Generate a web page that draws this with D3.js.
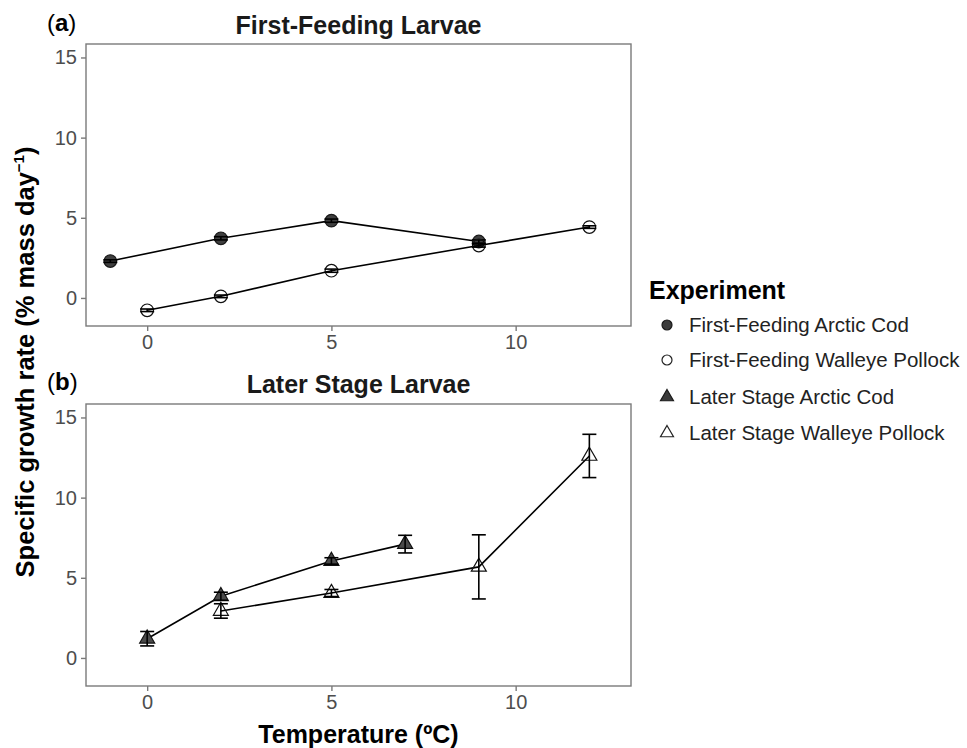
<!DOCTYPE html>
<html>
<head>
<meta charset="utf-8">
<script src="https://cdn.jsdelivr.net/npm/d3@7"></script>
<style>
  body { margin: 0; background: #fff; }
  svg { display: block; font-family: "Liberation Sans", Arial, sans-serif; }
</style>
</head>
<body>
<svg id="chart" width="967" height="748"></svg>
<script>
// ---- Data ----
const ffCodTemp = [-1, 2, 5, 9];
const ffCodSGR  = [2.3, 3.72, 4.82, 3.52];
const ffCodErr  = [0.08, 0.1, 0.1, 0.1];

const ffPollockTemp = [0, 2, 5, 9, 12];
const ffPollockSGR  = [-0.77, 0.1, 1.7, 3.27, 4.42];
const ffPollockErr  = [0.08, 0.08, 0.1, 0.1, 0.08];

const lsCodTemp = [0, 2, 5, 7];
const lsCodSGR  = [1.2, 3.85, 6.05, 7.1];
const lsCodErr  = [0.45, 0.25, 0.2, 0.55];

const lsPollockTemp = [2, 5, 9, 12];
const lsPollockSGR  = [2.93, 4.05, 5.68, 12.6];
const lsPollockErr  = [0.45, 0.22, 2.0, 1.35];

const xTicks = [0, 5, 10];
const yTicks = [0, 5, 10, 15];

const legendLabels = ["First-Feeding Arctic Cod", "First-Feeding Walleye Pollock",
                      "Later Stage Arctic Cod", "Later Stage Walleye Pollock"];

// ---- Layout ----
const svg = d3.select("#chart");
const left = 86, right = 631;
const panels = [
  { top: 44, bottom: 326, title: "First-Feeding Larvae", tag: "a", titleY: 34, tagY: 31,
    series: [
      { t: ffCodTemp, v: ffCodSGR, e: ffCodErr, shape: "circle", filled: true },
      { t: ffPollockTemp, v: ffPollockSGR, e: ffPollockErr, shape: "circle", filled: false }
    ] },
  { top: 404, bottom: 686, title: "Later Stage Larvae", tag: "b", titleY: 393, tagY: 390,
    series: [
      { t: lsCodTemp, v: lsCodSGR, e: lsCodErr, shape: "triangle", filled: true },
      { t: lsPollockTemp, v: lsPollockSGR, e: lsPollockErr, shape: "triangle", filled: false }
    ] }
];

const x = d3.scaleLinear().domain([-1.66, 13.13]).range([left, right]);
const axisGrey = "#7a7a7a";
const tickText = "#4d4d4d";

const triPath = (s) => {
  const h = s * Math.sqrt(3) / 2;
  return `M0,${-2*h/3}L${s/2},${h/3}L${-s/2},${h/3}Z`;
};

panels.forEach(p => {
  const y = d3.scaleLinear().domain([-1.75, 15.84]).range([p.bottom, p.top]);
  const g = svg.append("g");

  // data layer
  p.series.forEach(s => {
    const pts = s.t.map((t, i) => ({ t, v: s.v[i], e: s.e[i] }));
    g.append("path")
      .datum(pts)
      .attr("fill", "none")
      .attr("stroke", "#000")
      .attr("stroke-width", 1.6)
      .attr("d", d3.line().x(d => x(d.t)).y(d => y(d.v)));

    const marks = g.append("g");
    if (s.shape === "circle") {
      marks.selectAll("circle").data(pts).join("circle")
        .attr("cx", d => x(d.t)).attr("cy", d => y(d.v))
        .attr("r", 6.3)
        .attr("fill", s.filled ? "#3f3f3f" : "none")
        .attr("stroke", s.filled ? "#1a1a1a" : "#111")
        .attr("stroke-width", 1.2);
    } else {
      marks.selectAll("path").data(pts).join("path")
        .attr("transform", d => `translate(${x(d.t)},${y(d.v)})`)
        .attr("d", triPath(15))
        .attr("fill", s.filled ? "#4a4a4a" : "none")
        .attr("stroke", "#111")
        .attr("stroke-width", 1.2);
    }

    // error bars
    const eb = g.append("g").attr("stroke", "#000").attr("stroke-width", 1.6);
    const cap = 7;
    pts.forEach(d => {
      const cx = x(d.t), y1 = y(d.v + d.e), y0 = y(d.v - d.e);
      eb.append("line").attr("x1", cx).attr("x2", cx).attr("y1", y1).attr("y2", y0);
      eb.append("line").attr("x1", cx - cap).attr("x2", cx + cap).attr("y1", y1).attr("y2", y1);
      eb.append("line").attr("x1", cx - cap).attr("x2", cx + cap).attr("y1", y0).attr("y2", y0);
    });
  });

  // panel border
  g.append("rect")
    .attr("x", left).attr("y", p.top)
    .attr("width", right - left).attr("height", p.bottom - p.top)
    .attr("fill", "none").attr("stroke", axisGrey).attr("stroke-width", 1.4);

  // axes
  const xa = g.append("g").attr("transform", `translate(0,${p.bottom})`)
    .call(d3.axisBottom(x).tickValues(xTicks).tickSize(5).tickPadding(4));
  const ya = g.append("g").attr("transform", `translate(${left},0)`)
    .call(d3.axisLeft(y).tickValues(yTicks).tickSize(5).tickPadding(4));
  [xa, ya].forEach(a => {
    a.select(".domain").remove();
    a.selectAll(".tick line").attr("stroke", axisGrey).attr("stroke-width", 1.4);
    a.selectAll(".tick text").attr("fill", tickText)
      .style("font-size", "20px").style("font-family", "'Liberation Sans', Arial, sans-serif");
  });

  // title
  g.append("text")
    .attr("x", (left + right) / 2).attr("y", p.titleY)
    .attr("text-anchor", "middle")
    .style("font-size", "25px").style("font-weight", "bold").attr("fill", "#1a1a1a")
    .text(p.title);

  // panel tag
  const tag = g.append("text").attr("x", 47).attr("y", p.tagY)
    .style("font-size", "24px").attr("fill", "#000");
  tag.append("tspan").text("(");
  tag.append("tspan").style("font-weight", "bold").text(p.tag);
  tag.append("tspan").text(")");
});

// y axis title
const yt = svg.append("text")
  .attr("transform", "translate(34,362) rotate(-90)")
  .attr("text-anchor", "middle")
  .style("font-size", "25.5px").style("font-weight", "bold").attr("fill", "#000");
yt.append("tspan").text("Specific growth rate (% mass day");
yt.append("tspan").attr("dy", -10).style("font-size", "15px").text("−1");
yt.append("tspan").attr("dy", 10).text(")");

// x axis title
svg.append("text")
  .attr("x", (left + right) / 2).attr("y", 743)
  .attr("text-anchor", "middle")
  .style("font-size", "25px").style("font-weight", "bold").attr("fill", "#000")
  .text("Temperature (ºC)");

// legend
const lg = svg.append("g");
lg.append("text").attr("x", 649).attr("y", 299)
  .style("font-size", "25px").style("font-weight", "bold").attr("fill", "#000")
  .text("Experiment");
const legendY = [325, 360, 397, 433];
const legendShapes = [
  { shape: "circle", filled: true }, { shape: "circle", filled: false },
  { shape: "triangle", filled: true }, { shape: "triangle", filled: false }
];
legendLabels.forEach((lab, i) => {
  const cy = legendY[i];
  const sh = legendShapes[i];
  if (sh.shape === "circle") {
    lg.append("circle").attr("cx", 667).attr("cy", cy).attr("r", 5)
      .attr("fill", sh.filled ? "#3b3b3b" : "none")
      .attr("stroke", sh.filled ? "#1a1a1a" : "#222").attr("stroke-width", 1.2);
  } else {
    lg.append("path").attr("transform", `translate(667,${cy})`).attr("d", triPath(13))
      .attr("fill", sh.filled ? "#3b3b3b" : "none")
      .attr("stroke", sh.filled ? "#1a1a1a" : "#222").attr("stroke-width", 1.2);
  }
  lg.append("text").attr("x", 689).attr("y", cy).attr("dy", "0.36em")
    .style("font-size", "20.5px").attr("fill", "#222").text(lab);
});
</script>
</body>
</html>
